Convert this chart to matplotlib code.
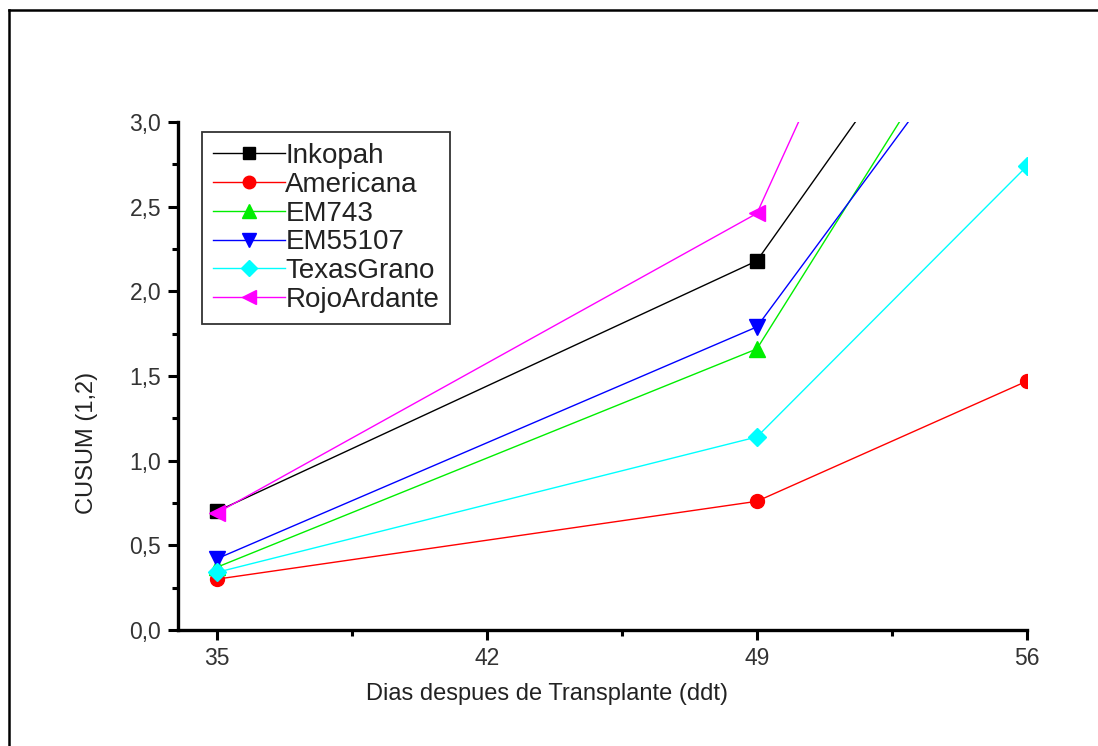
import matplotlib as mpl
mpl.use("Agg")
import matplotlib.pyplot as plt
from matplotlib.lines import Line2D
from matplotlib.ticker import MultipleLocator, FuncFormatter

plt.rcParams['font.family'] = ['Liberation Sans', 'DejaVu Sans']

# dias despues de transplante
dias = [35, 49, 56]

# valores CUSUM (1,2)
inkopah = [0.70, 2.18, 4.43]
americana = [0.30, 0.76, 1.47]
em743 = [0.37, 1.66, 4.20]
em55107 = [0.42, 1.79, 3.95]
texas_grano = [0.34, 1.14, 2.74]
rojo_ardante = [0.69, 2.46, 5.96]

nombres = ["Inkopah", "Americana", "EM743", "EM55107", "TexasGrano", "RojoArdante"]
series = [inkopah, americana, em743, em55107, texas_grano, rojo_ardante]
colores = ["black", "red", "#00ee00", "blue", "cyan", "magenta"]
marcas = ["s", "o", "^", "v", "D", "<"]
tamanos = [10, 10, 11, 11, 9, 11]

fig = plt.figure(figsize=(10.98, 7.46), dpi=100)
ax = fig.add_axes([178/1098, 1-630/746, (1027-178)/1098, (630-122)/746])

for y, nom, c, m, ms in zip(series, nombres, colores, marcas, tamanos):
    ax.plot(dias, y, color=c, lw=1.0, marker=m, ms=ms, mec=c, mfc=c, label=nom)

ax.set_xlim(34, 56)
ax.set_ylim(0, 3.0)
ax.set_xticks([35, 42, 49, 56])
ax.set_xticks([38.5, 45.5, 52.5], minor=True)
ax.yaxis.set_major_locator(MultipleLocator(0.5))
ax.yaxis.set_minor_locator(MultipleLocator(0.25))
ax.yaxis.set_major_formatter(FuncFormatter(lambda v, p: ("%.1f" % v).replace(".", ",")))

for s in ["top", "right"]:
    ax.spines[s].set_visible(False)
for s in ["left", "bottom"]:
    ax.spines[s].set_linewidth(2.4)
ax.tick_params(which="major", direction="out", length=7, width=2.2, labelsize=16.5,
               colors="black", labelcolor="#333333", pad=5)
ax.tick_params(which="minor", direction="out", length=4, width=2.2)

ax.set_xlabel("Dias despues de Transplante (ddt)", fontsize=17, labelpad=8, color="#222222")
ax.xaxis.set_label_coords((547-178)/849, -0.105)
ax.set_ylabel("CUSUM (1,2)", fontsize=17, color="#222222")
ax.yaxis.set_label_coords(-(178-98)/849, (630-443)/508)

leg = ax.legend(loc="upper left", bbox_to_anchor=(202/1098, 1-132/746),
                bbox_transform=fig.transFigure, borderaxespad=0,
                fontsize=20, handlelength=2.6, handletextpad=0.0,
                labelspacing=0.1, borderpad=0.4, fancybox=False,
                frameon=True, markerscale=0.9)
leg.get_frame().set_edgecolor("black")
leg.get_frame().set_linewidth(1.3)
for t in leg.get_texts():
    t.set_color("#222222")

# marco exterior (solo izquierda y arriba visibles)
fig.add_artist(Line2D([8.5/1098, 8.5/1098], [0, 1-9.5/746], color="black", lw=1.8,
                      transform=fig.transFigure))
fig.add_artist(Line2D([8.5/1098, 1], [1-9.5/746, 1-9.5/746], color="black", lw=1.8,
                      transform=fig.transFigure))

plt.savefig("out.png", dpi=100)
